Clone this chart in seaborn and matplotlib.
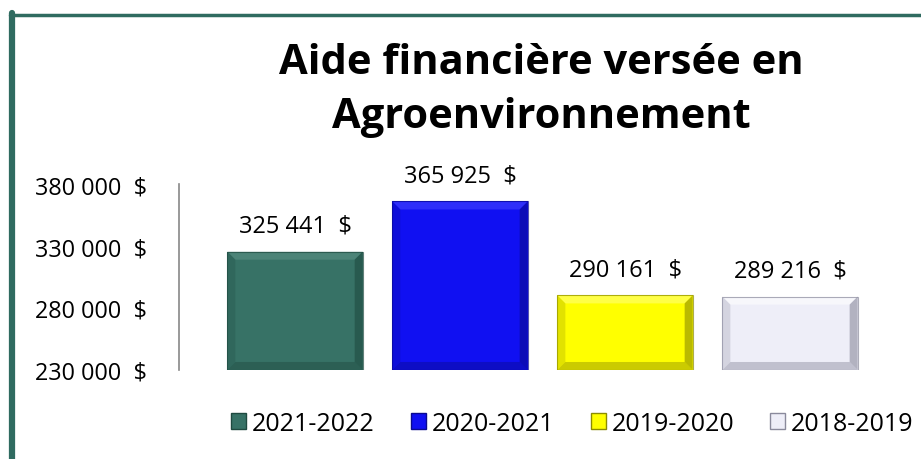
import matplotlib
matplotlib.use("Agg")
import matplotlib.pyplot as plt
import matplotlib.patches as mpatches
from matplotlib.lines import Line2D
import seaborn as sns
import pandas as pd

periodes = ["2021-2022", "2020-2021", "2019-2020", "2018-2019"]
montants = [325441, 365925, 290161, 289216]
couleurs = ["#377266", "#1010F2", "#FFFF00", "#EEEEF8"]
couleurs_bord = ["#1F4A40", "#0A0A90", "#8C8C00", "#8A8A9C"]
couleurs_clair = ["#5E9488", "#4A4AFF", "#FFFF80", "#FFFFFF"]
graduations = [230000, 280000, 330000, 380000]
titre = ["Aide financière versée en", "Agroenvironnement"]


def format_dollars(v):
    return f"{v:,.0f}".replace(",", " ") + "  $"


sns.set_style("white")
plt.rcParams["font.family"] = ["Open Sans", "DejaVu Sans"]
plt.rcParams["text.color"] = "black"

df = pd.DataFrame({"periode": periodes, "montant": montants})

fig = plt.figure(figsize=(9.21, 4.6), dpi=100)
ax = fig.add_axes([0.1944, 0.1935, 0.7893, 0.4043])

sns.barplot(data=df, x="periode", y="montant", hue="periode",
            palette=couleurs, width=0.82, legend=False, ax=ax,
            edgecolor="none", linewidth=0, saturation=1)

ax.set_ylim(graduations[0], graduations[-1])
ax.set_xlim(-0.703, 3.703)
ax.set_yticks(graduations)
ax.set_yticklabels([format_dollars(g) for g in graduations], fontsize=16.8, ha="left")
ax.tick_params(axis="y", length=0, pad=103.7, labelcolor="black")
ax.set_xticks([])
ax.set_xlabel("")
ax.set_ylabel("")
for cote in ["top", "right", "bottom"]:
    ax.spines[cote].set_visible(False)
ax.spines["left"].set_color("#888888")
ax.spines["left"].set_linewidth(1.2)

# effet biseau sur chaque barre, calcule a partir des rectangles de seaborn
fig.canvas.draw()
inv = ax.transData.inverted()
b = 8  # largeur du biseau en pixels
for patch, clair, fonce in zip(ax.patches, couleurs_clair, couleurs_bord):
    x0, y0 = ax.transData.transform((patch.get_x(), graduations[0]))
    x1, y1 = ax.transData.transform((patch.get_x() + patch.get_width(), patch.get_height()))
    cotes = [
        ([(x0, y1), (x1, y1), (x1 - b, y1 - b), (x0 + b, y1 - b)], clair, 0.55),
        ([(x0, y0), (x1, y0), (x1 - b, y0 + b), (x0 + b, y0 + b)], fonce, 0.45),
        ([(x0, y0), (x0, y1), (x0 + b, y1 - b), (x0 + b, y0 + b)], fonce, 0.25),
        ([(x1, y0), (x1, y1), (x1 - b, y1 - b), (x1 - b, y0 + b)], fonce, 0.6),
    ]
    for pts, c, a in cotes:
        pts_data = inv.transform(pts)
        ax.add_patch(mpatches.Polygon(pts_data, closed=True, facecolor=c,
                                      alpha=a, edgecolor="none"))
    ax.add_patch(mpatches.Rectangle((patch.get_x(), graduations[0]), patch.get_width(),
                                    patch.get_height() - graduations[0], fill=False,
                                    edgecolor=fonce, linewidth=0.8, alpha=0.7))

for patch, v in zip(ax.patches[:len(montants)], montants):
    ax.annotate(format_dollars(v), (patch.get_x() + patch.get_width() / 2, v),
                xytext=(0, 10), textcoords="offset points", ha="center",
                va="bottom", fontsize=17, color="black")

# titre sur deux lignes
for ligne, y in zip(titre, [1 - 74 / 460, 1 - 128 / 460]):
    fig.text(0.588, y, ligne, ha="center", va="baseline", fontsize=30,
             fontweight="bold", color="black")

poignees = [mpatches.Patch(facecolor=c, edgecolor=e, linewidth=1.0)
            for c, e in zip(couleurs, couleurs_bord)]
fig.legend(poignees, periodes, loc="center", bbox_to_anchor=(0.6216, 0.078),
           ncol=4, frameon=False, handlelength=0.6, handleheight=0.6,
           handletextpad=0.24, columnspacing=1.44, fontsize=18, labelcolor="black")

# cadre du graphique (haut et gauche visibles)
fig.add_artist(Line2D([12 / 921, 12 / 921], [0, 1 - 14 / 460], color="#2F6B60", linewidth=4.5))
fig.add_artist(Line2D([9.5 / 921, 1], [1 - 15.5 / 460, 1 - 15.5 / 460], color="#2F6B60", linewidth=2.5))

fig.savefig("out.png", dpi=100)
